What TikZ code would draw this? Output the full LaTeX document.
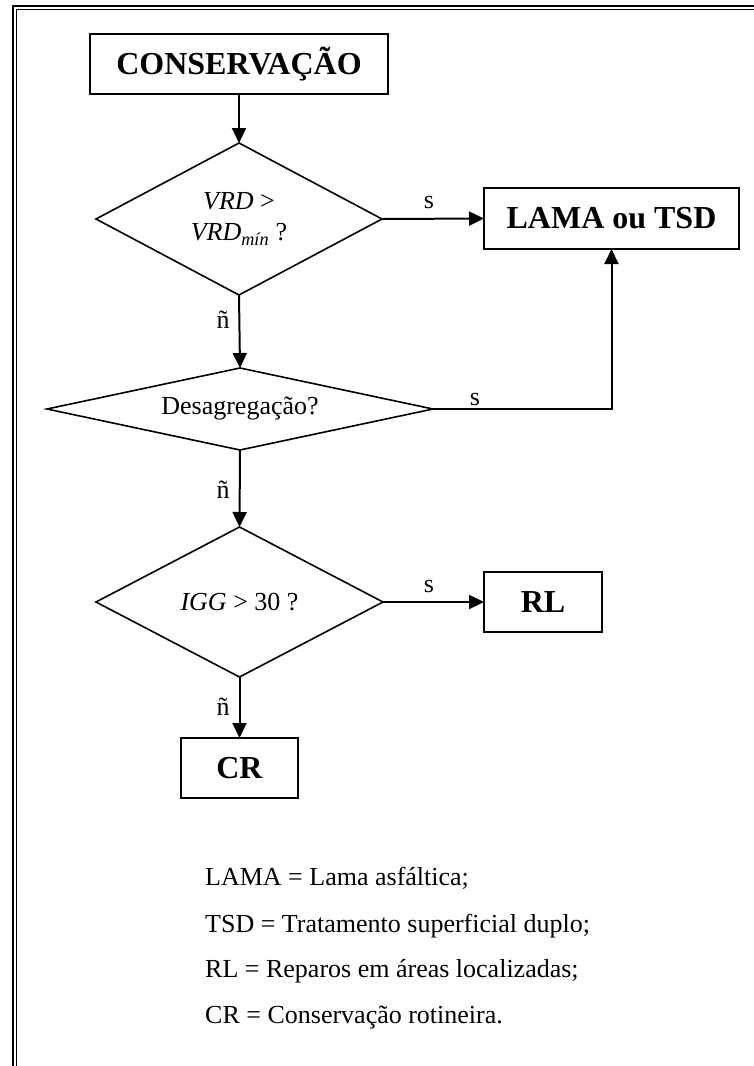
\documentclass[tikz,border=0pt]{standalone}
\usepackage{fontspec}
\setmainfont{Liberation Serif}
\usetikzlibrary{shapes.geometric,arrows.meta}
\begin{document}
\begin{tikzpicture}[x=1pt,y=-1pt,
  txt/.style={font=\fontsize{26}{31}\selectfont},
  boxnode/.style={draw,line width=2pt,inner sep=0pt,outer sep=0pt,
    font=\fontsize{32}{38}\selectfont\bfseries},
  decision/.style={draw,diamond,line width=1.6pt,inner sep=0pt,outer sep=0pt,
    align=center,font=\fontsize{26}{31}\selectfont},
  flow/.style={line width=2pt,-{Triangle[length=15pt,width=14pt]}},
  lbl/.style={inner sep=0pt,font=\fontsize{26}{31}\selectfont}]
\useasboundingbox (0,0) rectangle (754,1066);
% frame (double rule on top and left)
\draw[line width=2.2pt] (13,1066) -- (13,6) -- (754,6);
\draw[line width=1.3pt] (16.6,1066) -- (16.6,9.6) -- (754,9.6);

% boxes
\node[boxnode,minimum width=298pt,minimum height=60pt] (cons) at (239,64) {CONSERVAÇÃO};
\node[boxnode,minimum width=255pt,minimum height=61pt] (lama) at (611.5,218.5) {LAMA ou TSD};
\node[boxnode,minimum width=118pt,minimum height=60pt] (rl) at (543,602) {RL};
\node[boxnode,minimum width=117pt,minimum height=60pt] (cr) at (239.5,768) {CR};

% decisions
\node[decision,aspect=1.88,minimum width=286pt,minimum height=152pt] (d1) at (239,219)
  {\textit{VRD} >\\\textit{VRD}\textsubscript{\textit{mín}} ?};
\node[decision,aspect=4.7,minimum width=386pt,minimum height=82pt] (d2) at (240,409)
  {Desagregação?};
\node[decision,aspect=1.9,minimum width=287pt,minimum height=150pt] (d3) at (239.5,602)
  {\textit{IGG} > 30 ?};

% connectors
\draw[flow] (cons.south) -- (d1.north);
\draw[flow] (d1.east) -- (lama.west);
\draw[flow] (d1.south) -- (d2.north);
\draw[flow] (d2.east) -| (lama.south);
\draw[flow] (d2.south) -- (d3.north);
\draw[flow] (d3.east) -- (rl.west);
\draw[flow] (d3.south) -- (cr.north);

% branch labels
\node[lbl] (s1) at (429,202.5) {s};
\node[lbl] (s2) at (475,399) {s};
\node[lbl] (s3) at (429,586.5) {s};
\node[lbl] (n1) at (223,319.5) {ñ};
\node[lbl] (n2) at (223,490) {ñ};
\node[lbl] (n3) at (223,707) {ñ};

% legend
\node[txt,anchor=base west,inner sep=0pt] (l1) at (205,885) {LAMA = Lama asfáltica;};
\node[txt,anchor=base west,inner sep=0pt] (l2) at (205,932) {TSD = Tratamento superficial duplo;};
\node[txt,anchor=base west,inner sep=0pt] (l3) at (205,977) {RL = Reparos em áreas localizadas;};
\node[txt,anchor=base west,inner sep=0pt] (l4) at (205,1023) {CR = Conservação rotineira.};
\end{tikzpicture}
\end{document}
